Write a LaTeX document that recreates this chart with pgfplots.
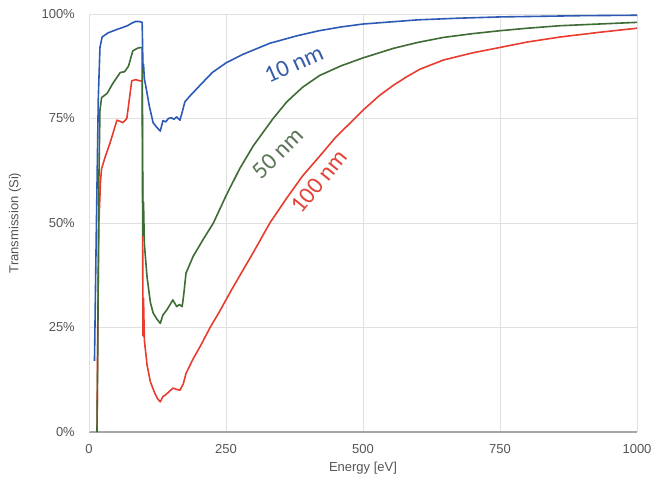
\documentclass[border=0pt]{standalone}
\usepackage{fontspec}
\setmainfont{Liberation Sans}
\newfontfamily\carlito{Carlito}
\usepackage{pgfplots}
\pgfplotsset{compat=1.18}
\definecolor{c10}{RGB}{45,90,180}
\definecolor{c50}{RGB}{62,108,52}
\definecolor{c100}{RGB}{232,60,48}
\definecolor{l10}{RGB}{55,92,170}
\definecolor{l50}{RGB}{92,118,88}
\definecolor{l100}{RGB}{226,68,58}
\definecolor{txt}{RGB}{85,85,85}

\begin{document}
\begin{tikzpicture}
\useasboundingbox (-89pt,-58pt) rectangle (563pt,432pt);
\begin{axis}[
    at={(0,0)}, anchor=south west,
    scale only axis,
    width=548pt, height=418pt,
    xmin=0, xmax=1000, ymin=0, ymax=100,
    xtick={0,250,500,750,1000},
    xticklabels={0,250,500,750,1000},
    ytick={0,25,50,75,100},
    yticklabels={0\%,25\%,50\%,75\%,100\%},
    tick style={draw=none},
    major tick length=0pt,
    ticklabel style={font=\fontsize{13}{15}\selectfont, text=txt, inner sep=0pt},
    xticklabel style={anchor=north, yshift=-12pt},
    yticklabel style={anchor=east, xshift=-14pt},
    grid=major,
    major grid style={draw=black!12, line width=0.9pt},
    axis x line*=bottom, axis y line*=left,
    x axis line style={-, draw=black!35, line width=1.3pt},
    y axis line style={-, draw=black!12, line width=0.9pt},
    xlabel={Energy [eV]},
    ylabel={Transmission (Si)},
    every axis x label/.style={at={([yshift=-36pt]axis description cs:0.5,0)}, anchor=center,
        font=\fontsize{13}{15}\selectfont, text=txt},
    every axis y label/.style={at={([xshift=-74pt]axis description cs:0,0.5)}, rotate=90, anchor=center,
        font=\fontsize{13}{15}\selectfont, text=txt},
    every axis plot/.append style={line width=1.6pt, line join=round},
]
% 100 nm
\addplot[c100] coordinates {
(14.6,0) (16,25) (18,50) (21,60) (23,63) (30,66) (38,69) (45,72) (51,74.6) (57,74.3)
(62,74) (69,75) (74,80) (78,84) (85,84.3) (93,84) (97,84) (98.5,23) (99.5,32) (101,22)
(106,16) (112,12) (120,9.3) (125,8) (130,7.2) (135,8.5) (139,8.8) (145,9.5) (153,10.5)
(160,10.2) (166,10) (172,11.5) (177,14) (190,17.5) (203,20.5) (221,25) (239,29) (260,34)
(280,38.5) (300,43) (330,50) (361,56) (390,61.3) (421,66) (450,70.5) (485,75) (500,77)
(530,80.5) (556,83) (580,85) (604,86.8) (647,89) (700,90.7) (750,92) (800,93.3)
(860,94.5) (930,95.6) (1000,96.6)};
% 50 nm
\addplot[c50] coordinates {
(14.6,0) (16,20) (18,60) (20,77) (23,80) (33,81) (44,83.5) (57,86) (65,86.2) (72,87.5)
(80,91.2) (90,91.9) (97,92) (98.5,47) (99.5,55) (101,45) (106,37) (112,31) (117,28.5)
(124,27) (130,26) (135,28) (142,29.2) (148,30.5) (153,31.6) (160,30) (165,30.5) (170,30)
(173,33) (177,38) (190,42) (208,46) (227,50) (250,56.5) (275,63) (300,68.5) (336,75)
(361,79) (390,82.5) (421,85.3) (460,87.6) (500,89.5) (556,91.8) (600,93.2) (647,94.4)
(700,95.3) (750,96) (800,96.6) (860,97.2) (930,97.6) (1000,98)};
% 10 nm
\addplot[c10] coordinates {
(10,17) (13,45) (17,80) (20,92) (24,94.5) (35,95.5) (45,96) (55,96.5) (62,96.8) (70,97.2)
(78,97.8) (85,98.2) (92,98.2) (97,98) (98.5,87) (99.5,88) (101,84.5) (104,82.5) (110,78)
(117,74) (123,73) (130,72) (135,74.5) (140,74.2) (145,75) (150,75.2) (155,74.8) (160,75.4)
(166,74.6) (170,76.5) (175,79) (185,80.5) (203,83) (225,86) (250,88.3) (280,90.3) (330,93)
(380,94.8) (420,96) (460,96.9) (500,97.6) (550,98.1) (600,98.6) (675,99) (750,99.3)
(900,99.6) (1000,99.7)};
\node[text=l10, font=\carlito\fontsize{24}{26}\selectfont, rotate=24] at (axis cs:374,88) {10 nm};
\node[text=l50, font=\carlito\fontsize{24}{26}\selectfont, rotate=45] at (axis cs:345,66.7) {50 nm};
\node[text=l100, font=\carlito\fontsize{24}{26}\selectfont, rotate=51] at (axis cs:420,60) {100 nm};
\end{axis}
\end{tikzpicture}
\end{document}
